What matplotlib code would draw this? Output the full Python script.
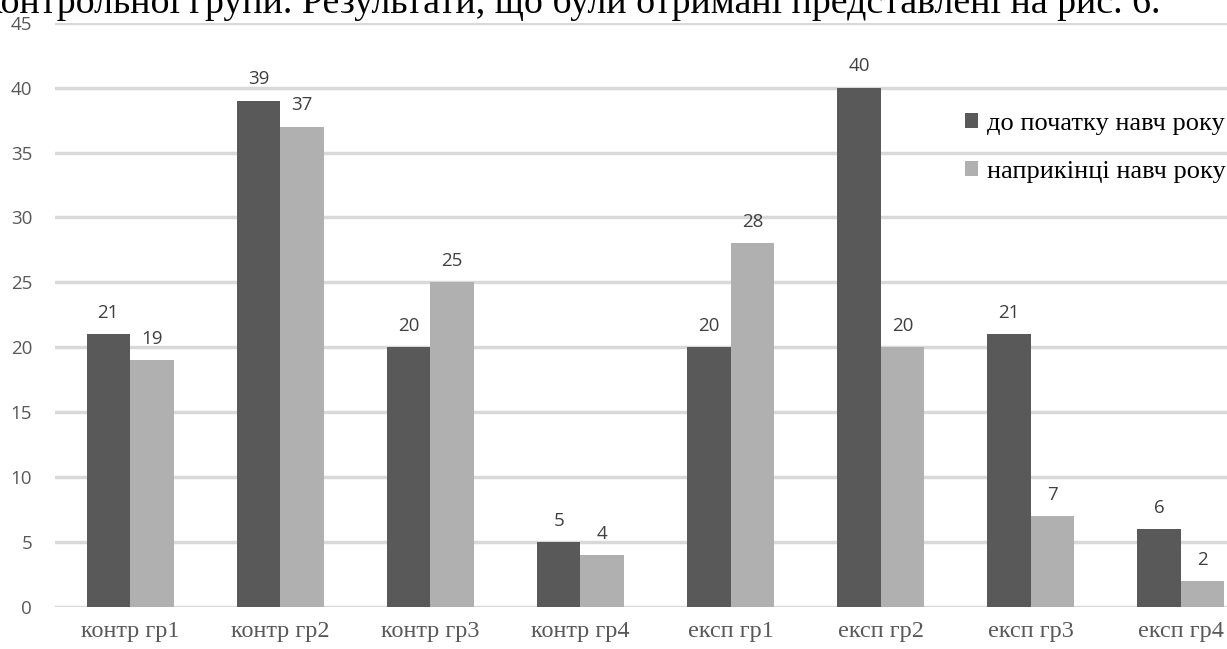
import matplotlib
matplotlib.use("Agg")
import matplotlib.pyplot as plt
import numpy as np

categories = ["контр гр1", "контр гр2", "контр гр3", "контр гр4",
              "експ гр1", "експ гр2", "експ гр3", "експ гр4"]
before_vals = [21, 39, 20, 5, 20, 40, 21, 6]
after_vals = [19, 37, 25, 4, 28, 20, 7, 2]
series_names = ["до початку навч року", "наприкінці навч року"]
y_ticks = [0, 5, 10, 15, 20, 25, 30, 35, 40, 45]
caption = "контрольної групи. Результати, що були отримані представлені на рис. 6."

W, H = 1227, 649
fig = plt.figure(figsize=(W / 100, H / 100), dpi=100)
# axes extends past right edge (chart is cropped in the reference)
left, right_px, top_px, bottom_px = 55, 1256, 22.7, 607
ax = fig.add_axes([left / W, 1 - bottom_px / H, (right_px - left) / W, (bottom_px - top_px) / H])

x = np.arange(len(categories))
w = 0.29
dark = "#595959"
light = "#b0b0b0"
b1 = ax.bar(x - w / 2, before_vals, w, color=dark, label=series_names[0], zorder=3)
b2 = ax.bar(x + w / 2, after_vals, w, color=light, label=series_names[1], zorder=3)

for bars, vals in ((b1, before_vals), (b2, after_vals)):
    for r, v in zip(bars, vals):
        ax.annotate(str(v), (r.get_x() + r.get_width() / 2, v), xytext=(0, 9),
                    textcoords="offset points", ha="center", va="bottom",
                    fontsize=13.5, color="#404040", family="Open Sans")

ax.set_xlim(-0.5, len(categories) - 0.5)
ax.set_ylim(0, 45)
ax.set_yticks(y_ticks)
ax.yaxis.grid(True, color="#d9d9d9", linewidth=2.5, zorder=0)
ax.set_axisbelow(True)
for s in ax.spines.values():
    s.set_visible(False)
ax.tick_params(axis="both", length=0)
ax.tick_params(axis="y", pad=16.5, labelsize=13.5, labelcolor="#595959")
for lbl in ax.get_yticklabels():
    lbl.set_family("Open Sans")
ax.set_xticks(x)
ax.set_xticklabels(categories, family="Liberation Serif", fontsize=17.5, color="#595959")
ax.tick_params(axis="x", pad=10)

leg = fig.legend(handles=[b1, b2], labels=series_names, loc="upper left",
                 bbox_to_anchor=(941 / W, 1 - 89 / H), frameon=False,
                 prop={"family": "Liberation Serif", "size": 19},
                 handlelength=0.5, handleheight=0.5, handletextpad=0.35,
                 labelspacing=0.98)

fig.text(1160 / W, 1 - 13 / H, caption, ha="right", va="baseline",
         family="Liberation Serif", fontsize=27.3, color="black")

fig.savefig("out.png", dpi=100, facecolor="white")
